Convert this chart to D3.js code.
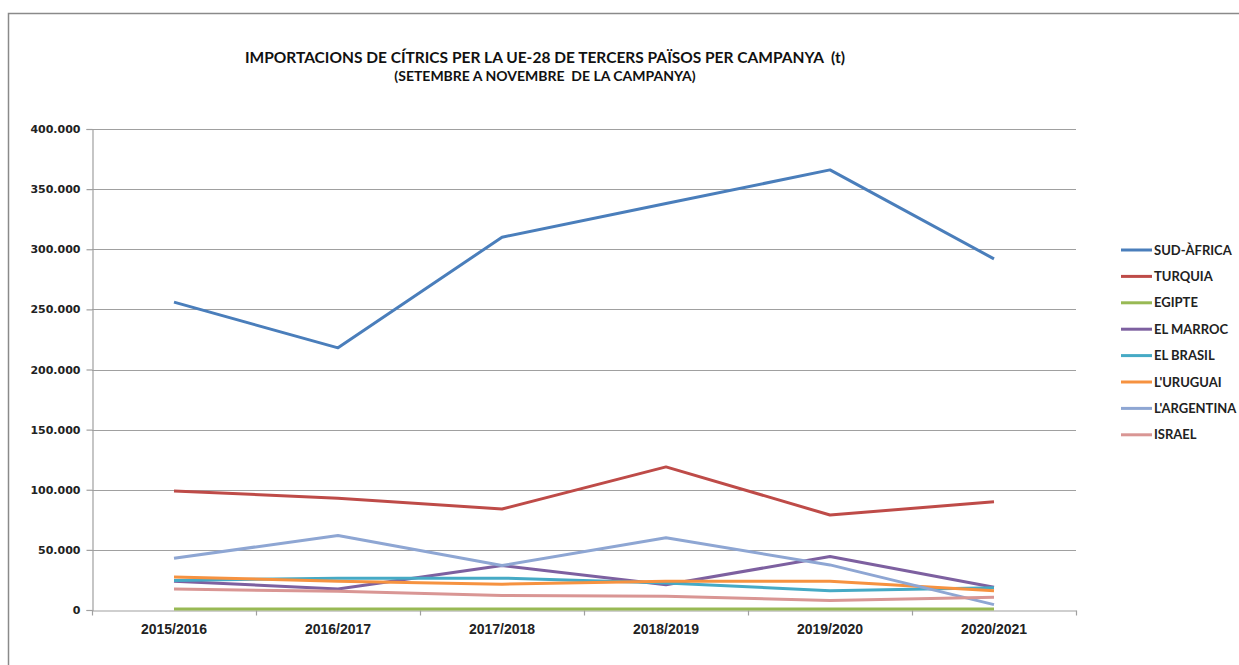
<!DOCTYPE html>
<html>
<head>
<meta charset="utf-8">
<script src="https://cdn.jsdelivr.net/npm/d3@7"></script>
<style>
  body { margin: 0; background: #fff; }
  svg { display: block; font-family: Lato, "Open Sans", sans-serif; }
  .title { white-space: pre; }
</style>
</head>
<body>
<svg id="chart" width="1239" height="665"></svg>
<script>
// campaigns on the x axis
const campaigns = ["2015/2016", "2016/2017", "2017/2018", "2018/2019", "2019/2020", "2020/2021"];

// tonnes per country
const sudAfrica = [256000, 218000, 310000, 338000, 366000, 292000];
const turquia   = [99000, 93000, 84000, 119000, 79000, 90000];
const egipte    = [800, 900, 900, 800, 800, 900];
const elMarroc  = [24000, 17500, 37000, 21000, 44500, 19000];
const elBrasil  = [24500, 26500, 26500, 22500, 16000, 18500];
const lUruguai  = [27500, 24000, 21500, 24000, 24000, 16000];
const lArgentina = [43000, 62000, 37000, 60000, 37500, 4500];
const israel    = [17500, 15500, 12000, 11500, 8000, 10500];

const yTicks = [0, 50000, 100000, 150000, 200000, 250000, 300000, 350000, 400000];

const series = [
  { name: "SUD-ÀFRICA", values: sudAfrica, color: "#4a7ebb" },
  { name: "TURQUIA", values: turquia, color: "#be4b48" },
  { name: "EGIPTE", values: egipte, color: "#98b954" },
  { name: "EL MARROC", values: elMarroc, color: "#7d60a0" },
  { name: "EL BRASIL", values: elBrasil, color: "#46aac5" },
  { name: "L'URUGUAI", values: lUruguai, color: "#f69240" },
  { name: "L'ARGENTINA", values: lArgentina, color: "#8ea6d3" },
  { name: "ISRAEL", values: israel, color: "#d99694" }
];

const svg = d3.select("#chart");

// outer frame, runs off the right and bottom edges
svg.append("rect")
  .attr("x", 8.5).attr("y", 13.5)
  .attr("width", 1400).attr("height", 800)
  .attr("fill", "none").attr("stroke", "#8a8a8a").attr("stroke-width", 1.5);

// title
svg.append("text")
  .attr("class", "title")
  .attr("x", 545).attr("y", 63)
  .attr("text-anchor", "middle")
  .attr("font-size", 15.5).attr("font-weight", "bold").attr("fill", "#111")
  .text("IMPORTACIONS DE CÍTRICS PER LA UE-28 DE TERCERS PAÏSOS PER CAMPANYA  (t)");
svg.append("text")
  .attr("class", "title")
  .attr("x", 545).attr("y", 81)
  .attr("text-anchor", "middle")
  .attr("font-size", 14).attr("font-weight", "bold").attr("fill", "#111")
  .text("(SETEMBRE A NOVEMBRE  DE LA CAMPANYA)");

const plotLeft = 92, plotRight = 1076, plotTop = 129, plotBottom = 610;

const x = d3.scaleBand().domain(campaigns).range([plotLeft, plotRight]);
const y = d3.scaleLinear().domain([0, 400000]).range([plotBottom, plotTop]);

const fmt = v => d3.format(",")(v).replace(/,/g, ".");

// gridlines
svg.append("g")
  .selectAll("line")
  .data(yTicks.filter(d => d > 0))
  .join("line")
  .attr("x1", plotLeft).attr("x2", plotRight)
  .attr("y1", d => Math.round(y(d)) + 0.5).attr("y2", d => Math.round(y(d)) + 0.5)
  .attr("stroke", "#a0a0a0").attr("stroke-width", 1.2);

// y axis
const yAxis = svg.append("g")
  .attr("transform", `translate(${plotLeft + 0.5},0)`)
  .call(d3.axisLeft(y).tickValues(yTicks).tickFormat(fmt).tickSize(6).tickPadding(6));
yAxis.select(".domain").attr("stroke", "#a0a0a0").attr("stroke-width", 1.2);
yAxis.selectAll(".tick line").attr("stroke", "#a0a0a0").attr("stroke-width", 1.2);
yAxis.selectAll("text")
  .attr("font-family", "'DejaVu Sans', Verdana, sans-serif")
  .attr("font-size", 11).attr("font-weight", "bold").attr("fill", "#222");

// x axis, ticks between categories
const xAxis = svg.append("g")
  .attr("transform", `translate(0,${plotBottom + 0.5})`)
  .call(d3.axisBottom(x).tickSize(0).tickPadding(14));
xAxis.select(".domain").attr("stroke", "#a0a0a0").attr("stroke-width", 1.2);
xAxis.selectAll("text")
  .attr("font-size", 14).attr("font-weight", "bold").attr("fill", "#222");
xAxis.append("g")
  .selectAll("line")
  .data(d3.range(campaigns.length + 1))
  .join("line")
  .attr("x1", i => Math.round(plotLeft + i * x.step()) + 0.5)
  .attr("x2", i => Math.round(plotLeft + i * x.step()) + 0.5)
  .attr("y1", 0).attr("y2", 5)
  .attr("stroke", "#a0a0a0").attr("stroke-width", 1.2);

// lines
const line = d3.line()
  .x((d, i) => x(campaigns[i]) + x.bandwidth() / 2)
  .y(d => y(d));

svg.append("g")
  .selectAll("path")
  .data(series)
  .join("path")
  .attr("d", d => line(d.values))
  .attr("fill", "none")
  .attr("stroke", d => d.color)
  .attr("stroke-width", 3)
  .attr("stroke-linejoin", "round");

// legend
const legend = svg.append("g")
  .selectAll("g")
  .data(series)
  .join("g")
  .attr("transform", (d, i) => `translate(1121,${250 + i * 26.4})`);
legend.append("line")
  .attr("x1", 0).attr("x2", 31)
  .attr("stroke", d => d.color).attr("stroke-width", 3);
legend.append("text")
  .attr("x", 33).attr("dy", "0.35em")
  .attr("font-size", 13).attr("font-weight", "bold").attr("fill", "#222")
  .text(d => d.name);
</script>
</body>
</html>
